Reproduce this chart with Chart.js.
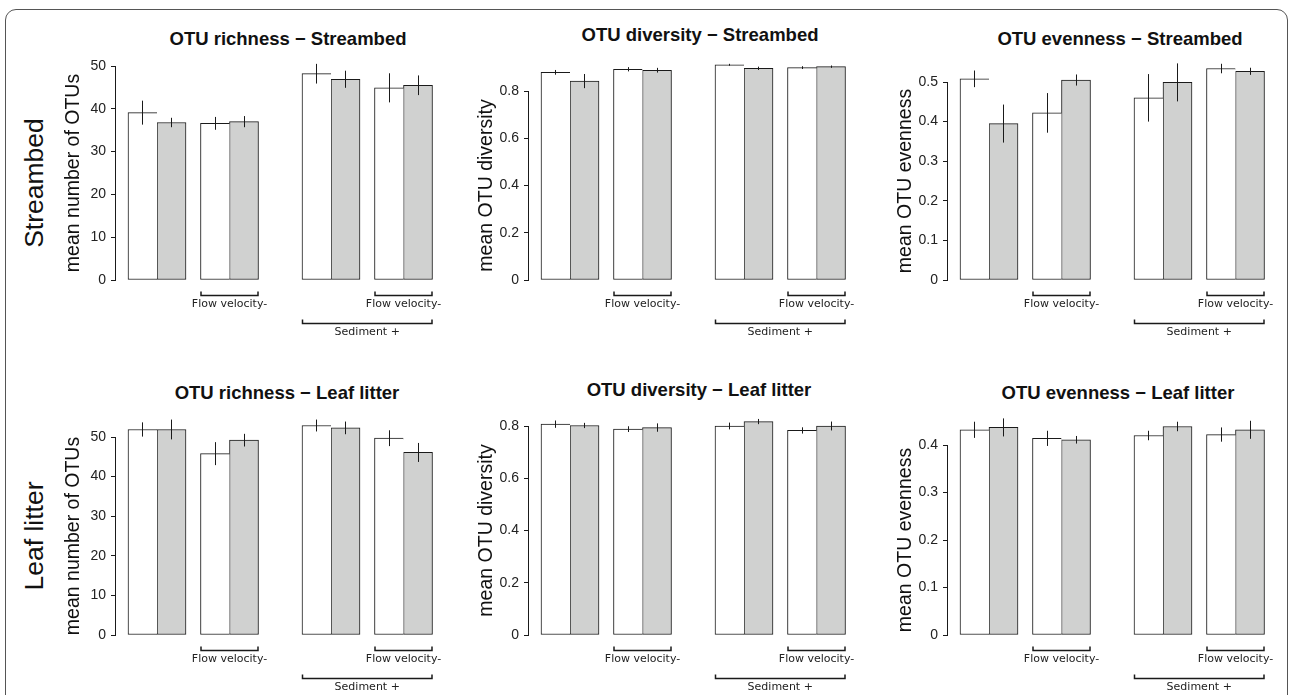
<!DOCTYPE html>
<html>
<head>
<meta charset="utf-8">
<script src="https://cdn.jsdelivr.net/npm/chart.js@4"></script>
<style>
  html, body { margin: 0; padding: 0; background: #fff; }
  body { width: 1290px; height: 695px; position: relative; overflow: hidden; font-family: "Liberation Sans", Arial, sans-serif; }
  .frame { position: absolute; left: 5px; top: 9px; width: 1283px; height: 720px; border: 1px solid #555; border-radius: 11px; box-sizing: border-box; }
  canvas { position: absolute; }
  .ptitle { position: absolute; font-weight: bold; font-size: 18.5px; line-height: 1; color: #111; white-space: nowrap; transform: translate(-50%, -50%); }
  .rowlab { position: absolute; font-size: 26.5px; line-height: 1; color: #111; white-space: nowrap; transform: translate(-50%, -50%) rotate(-90deg); }
</style>
</head>
<body>
<div class="frame"></div>

<script>
// bar slots on the x axis: white bar, grey bar of each treatment pair
const slotWhite = [0.5, 3, 6.5, 9];
const slotGrey = [1.5, 4, 7.5, 10];

// OTU richness - Streambed
const richStreamWhite = [39.1, 36.6, 48.2, 44.9];
const richStreamWhiteErr = [2.8, 1.5, 2.3, 3.4];
const richStreamGrey = [36.8, 37.0, 46.9, 45.5];
const richStreamGreyErr = [1.1, 1.3, 2.0, 2.3];

// OTU diversity - Streambed
const divStreamWhite = [0.879, 0.892, 0.911, 0.899];
const divStreamWhiteErr = [0.010, 0.009, 0.004, 0.006];
const divStreamGrey = [0.842, 0.888, 0.896, 0.903];
const divStreamGreyErr = [0.030, 0.010, 0.007, 0.005];

// OTU evenness - Streambed
const evenStreamWhite = [0.508, 0.422, 0.460, 0.534];
const evenStreamWhiteErr = [0.021, 0.050, 0.060, 0.012];
const evenStreamGrey = [0.395, 0.505, 0.499, 0.527];
const evenStreamGreyErr = [0.048, 0.014, 0.048, 0.009];

// OTU richness - Leaf litter
const richLeafWhite = [51.9, 45.8, 52.9, 49.7];
const richLeafWhiteErr = [1.8, 2.9, 1.5, 2.0];
const richLeafGrey = [51.9, 49.2, 52.3, 46.1];
const richLeafGreyErr = [2.5, 1.6, 1.6, 2.4];

// OTU diversity - Leaf litter
const divLeafWhite = [0.807, 0.788, 0.800, 0.783];
const divLeafWhiteErr = [0.014, 0.011, 0.013, 0.012];
const divLeafGrey = [0.802, 0.794, 0.817, 0.800];
const divLeafGreyErr = [0.010, 0.016, 0.010, 0.017];

// OTU evenness - Leaf litter
const evenLeafWhite = [0.432, 0.414, 0.420, 0.422];
const evenLeafWhiteErr = [0.017, 0.016, 0.010, 0.015];
const evenLeafGrey = [0.437, 0.411, 0.439, 0.432];
const evenLeafGreyErr = [0.019, 0.008, 0.010, 0.019];

// y axis tick ranges
const yTopRich = 50, yStepRich = 10;
const yTopDiv = 0.8, yStepDiv = 0.2;
const yTopEvenStream = 0.5, yTopEvenLeaf = 0.4, yStepEven = 0.1;

const bracketFlow = 'Flow velocity-';
const bracketSediment = 'Sediment +';

const panels = [
  { title: 'OTU richness \u2212 Streambed', ylab: 'mean number of OTUs', white: richStreamWhite, whiteErr: richStreamWhiteErr, grey: richStreamGrey, greyErr: richStreamGreyErr, top: yTopRich, step: yStepRich,
    axisX: 115, topY: 66, zeroY: 280, tx: 288, ty: 39 },
  { title: 'OTU diversity \u2212 Streambed', ylab: 'mean OTU diversity', white: divStreamWhite, whiteErr: divStreamWhiteErr, grey: divStreamGrey, greyErr: divStreamGreyErr, top: yTopDiv, step: yStepDiv,
    axisX: 528, topY: 91, zeroY: 280, tx: 700, ty: 35 },
  { title: 'OTU evenness \u2212 Streambed', ylab: 'mean OTU evenness', white: evenStreamWhite, whiteErr: evenStreamWhiteErr, grey: evenStreamGrey, greyErr: evenStreamGreyErr, top: yTopEvenStream, step: yStepEven,
    axisX: 947, topY: 82, zeroY: 280, tx: 1120, ty: 39 },
  { title: 'OTU richness \u2212 Leaf litter', ylab: 'mean number of OTUs', white: richLeafWhite, whiteErr: richLeafWhiteErr, grey: richLeafGrey, greyErr: richLeafGreyErr, top: yTopRich, step: yStepRich,
    axisX: 115, topY: 437, zeroY: 635, tx: 287, ty: 393 },
  { title: 'OTU diversity \u2212 Leaf litter', ylab: 'mean OTU diversity', white: divLeafWhite, whiteErr: divLeafWhiteErr, grey: divLeafGrey, greyErr: divLeafGreyErr, top: yTopDiv, step: yStepDiv,
    axisX: 528, topY: 426, zeroY: 635, tx: 699, ty: 390 },
  { title: 'OTU evenness \u2212 Leaf litter', ylab: 'mean OTU evenness', white: evenLeafWhite, whiteErr: evenLeafWhiteErr, grey: evenLeafGrey, greyErr: evenLeafGreyErr, top: yTopEvenLeaf, step: yStepEven,
    axisX: 947, topY: 445, zeroY: 635, tx: 1118, ty: 393 }
];

const rowLabels = [
  { text: 'Streambed', x: 34, y: 183 },
  { text: 'Leaf litter', x: 34, y: 536 }
];

const INK = '#1a1a1a';
const AXIS_W = 80;      // room for tick labels and y title
const CANVAS_W = 420;
const PAD_TOP = 30, PAD_BOTTOM = 60;
const PX_PER_SLOT = 29;
const X_MIN = -13 / PX_PER_SLOT;   // first bar starts 13px right of the axis

// vertical error lines through the bar centres
const errorBars = {
  id: 'errorBars',
  afterDatasetsDraw(chart) {
    const ctx = chart.ctx;
    const y = chart.scales.y;
    ctx.save();
    ctx.strokeStyle = INK;
    ctx.lineWidth = 1;
    chart.data.datasets.forEach((ds, di) => {
      chart.getDatasetMeta(di).data.forEach((bar, i) => {
        const v = ds.data[i].y, e = ds.errors[i];
        const x = Math.floor(bar.x) + 0.5;
        ctx.beginPath();
        ctx.moveTo(x, y.getPixelForValue(v + e));
        ctx.lineTo(x, y.getPixelForValue(v - e));
        ctx.stroke();
      });
    });
    ctx.restore();
  }
};

// treatment brackets under the bars
const brackets = {
  id: 'brackets',
  afterDraw(chart) {
    const ctx = chart.ctx;
    const xs = chart.scales.x;
    const y0 = chart.scales.y.getPixelForValue(0);
    const draw = (from, to, dy, label) => {
      const x1 = xs.getPixelForValue(from) + 0.5, x2 = xs.getPixelForValue(to) - 0.5;
      const yy = Math.round(y0 + dy) + 0.5;
      ctx.beginPath();
      ctx.moveTo(x1, yy - 4); ctx.lineTo(x1, yy); ctx.lineTo(x2, yy); ctx.lineTo(x2, yy - 4);
      ctx.stroke();
      ctx.fillText(label, (x1 + x2) / 2, y0 + dy + 9);
    };
    ctx.save();
    ctx.strokeStyle = INK;
    ctx.lineWidth = 1.5;
    ctx.fillStyle = '#222';
    ctx.font = '11px "DejaVu Sans", Verdana, sans-serif';
    ctx.textAlign = 'center';
    ctx.textBaseline = 'middle';
    draw(slotWhite[1] - 0.5, slotGrey[1] + 0.5, 15, bracketFlow);
    draw(slotWhite[3] - 0.5, slotGrey[3] + 0.5, 15, bracketFlow);
    draw(slotWhite[2] - 0.5, slotGrey[3] + 0.5, 43, bracketSediment);
    ctx.restore();
  }
};

function addText(cls, text, x, y) {
  const d = document.createElement('div');
  d.className = cls;
  d.textContent = text;
  d.style.left = x + 'px';
  d.style.top = y + 'px';
  document.body.appendChild(d);
}

rowLabels.forEach(r => addText('rowlab', r.text, r.x, r.y));

panels.forEach(p => {
  addText('ptitle', p.title, p.tx, p.ty);

  const canvas = document.createElement('canvas');
  const top = p.topY - PAD_TOP;
  const height = p.zeroY + PAD_BOTTOM - top;
  canvas.width = CANVAS_W;
  canvas.height = height;
  canvas.style.left = (p.axisX - AXIS_W) + 'px';
  canvas.style.top = top + 'px';
  canvas.style.width = CANVAS_W + 'px';
  canvas.style.height = height + 'px';
  document.body.appendChild(canvas);

  const slotsAcross = (CANVAS_W - AXIS_W) / PX_PER_SLOT;
  const allSlots = slotWhite.concat(slotGrey).sort((a, b) => a - b);

  new Chart(canvas, {
    type: 'bar',
    data: {
      datasets: [
        {
          label: 'white',
          data: slotWhite.map((s, i) => ({ x: s, y: p.white[i] })),
          errors: p.whiteErr,
          backgroundColor: '#ffffff',
          borderColor: INK,
          borderWidth: { top: 1, left: 1, bottom: 1, right: 0 },
          borderSkipped: false,
          clip: false
        },
        {
          label: 'grey',
          data: slotGrey.map((s, i) => ({ x: s, y: p.grey[i] })),
          errors: p.greyErr,
          backgroundColor: '#d0d1d0',
          borderColor: INK,
          borderWidth: { top: 1, left: 1, bottom: 1, right: 1 },
          borderSkipped: false,
          clip: false
        }
      ]
    },
    options: {
      responsive: false,
      maintainAspectRatio: false,
      animation: false,
      devicePixelRatio: 1,
      grouped: false,
      categoryPercentage: 1,
      barPercentage: 1,
      layout: { padding: { top: PAD_TOP, bottom: PAD_BOTTOM, left: 0, right: 0 } },
      plugins: { legend: { display: false }, tooltip: { enabled: false }, title: { display: false } },
      scales: {
        x: {
          type: 'linear',
          display: false,
          offset: false,
          grid: { offset: false },
          min: X_MIN,
          max: X_MIN + slotsAcross,
          afterBuildTicks: s => { s.ticks = allSlots.map(v => ({ value: v })); }
        },
        y: {
          min: 0,
          max: p.top,
          afterFit: s => { s.width = AXIS_W; },
          ticks: {
            stepSize: p.step,
            padding: 5,
            color: '#222',
            font: { family: '"Liberation Sans", Arial, sans-serif', size: 14 },
            callback: v => String(+v.toFixed(2))
          },
          grid: { display: true, drawOnChartArea: false, drawTicks: true, tickLength: 4, color: INK },
          border: { display: true, color: INK, width: 1 },
          title: {
            display: true,
            text: p.ylab,
            color: '#111',
            font: { family: '"Liberation Sans", Arial, sans-serif', size: 19.5 },
            padding: { top: 27, bottom: 0 }
          }
        }
      }
    },
    plugins: [errorBars, brackets]
  });
});
</script>
</body>
</html>
